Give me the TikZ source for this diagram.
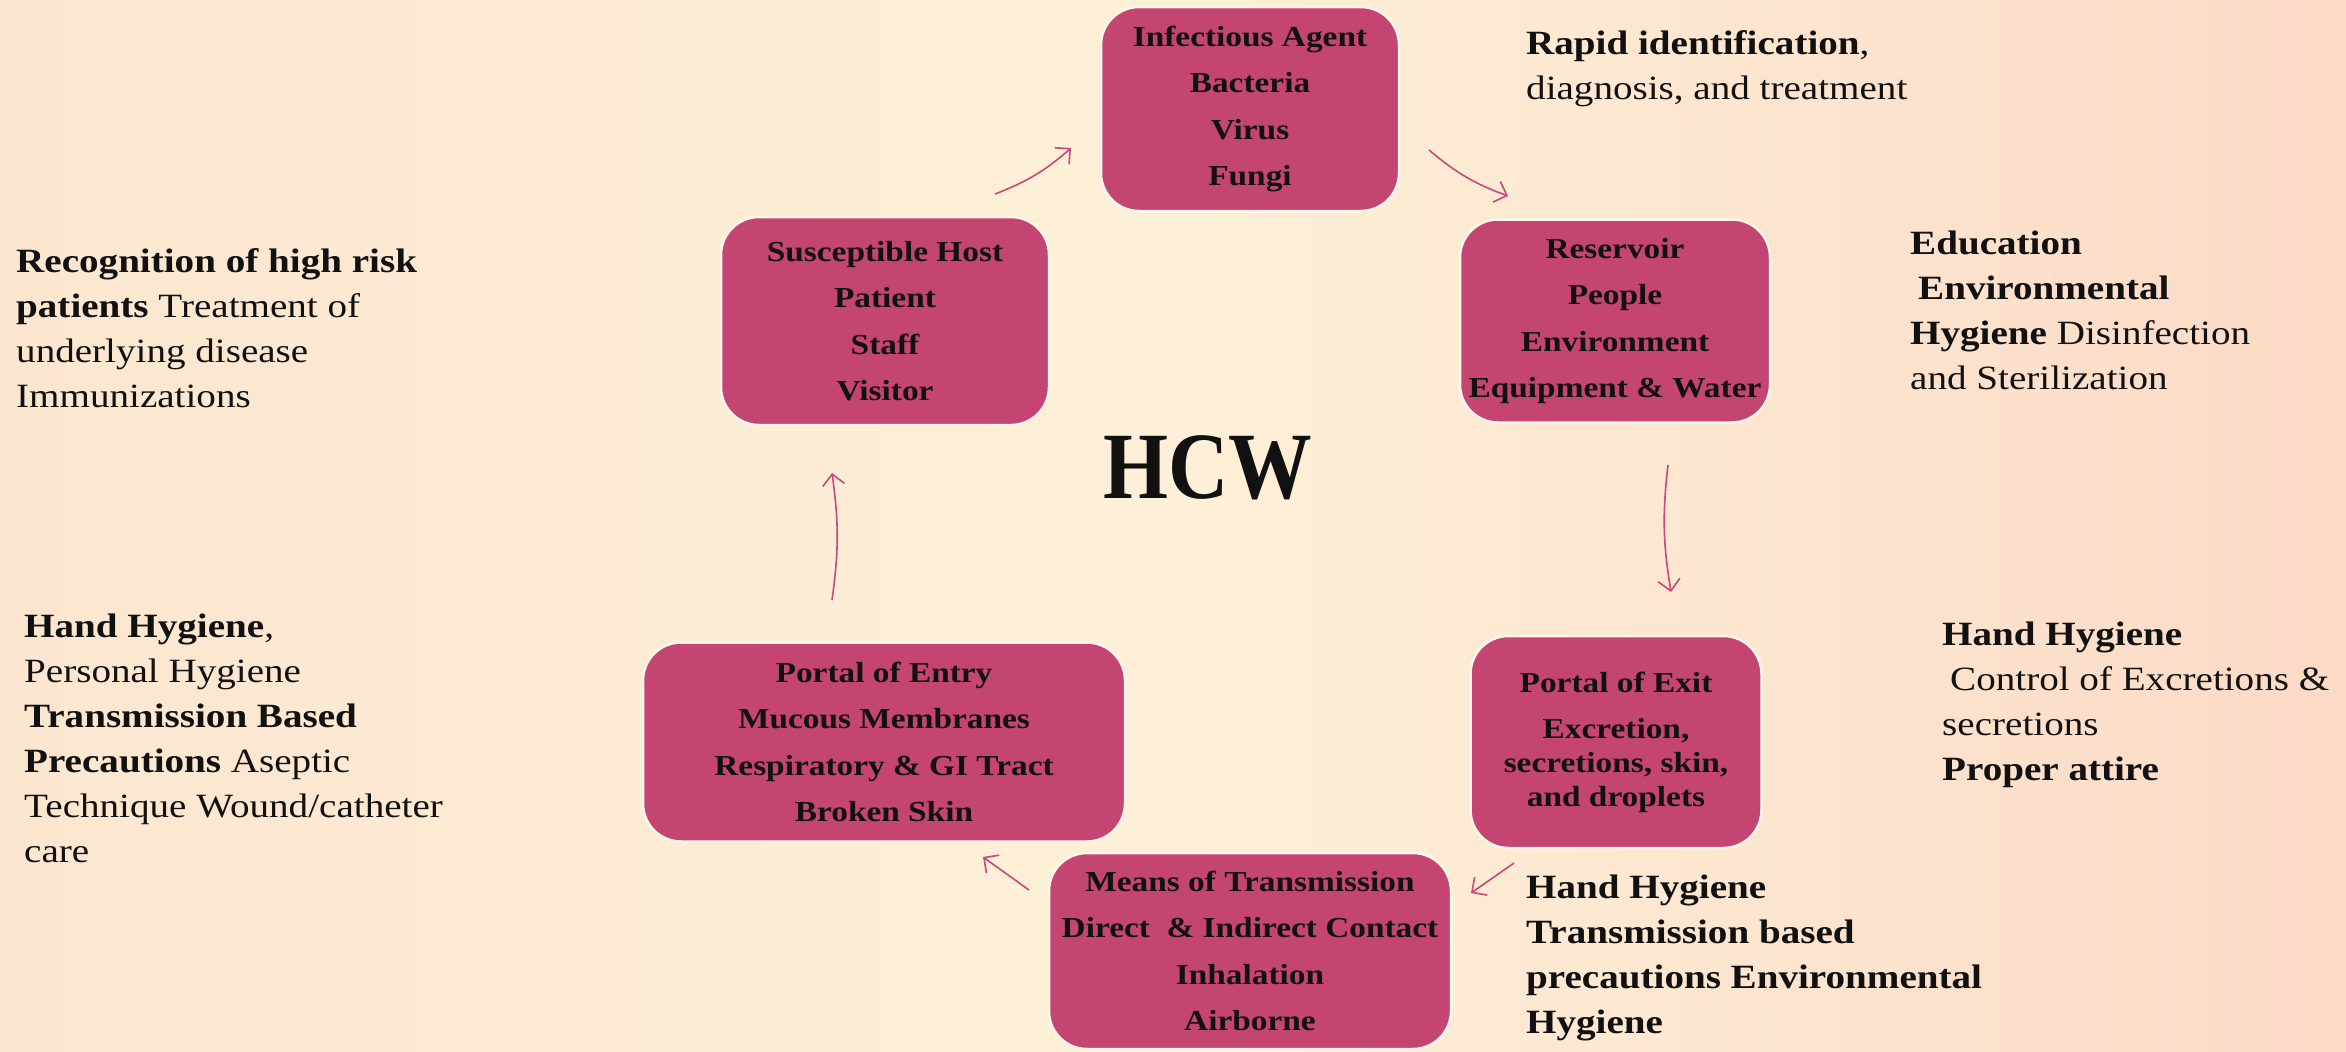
\documentclass[tikz,border=0pt]{standalone}
\usepackage{fontspec}
\setmainfont{Liberation Serif}[FakeStretch=1.15]
\newfontfamily\hcwfont{Liberation Serif}[FakeStretch=0.88]
\usetikzlibrary{arrows.meta}
\definecolor{bgmid}{HTML}{FEF0D8}
\definecolor{bgleft}{HTML}{FCE6D0}
\definecolor{bgright}{HTML}{FBDAC6}
\definecolor{boxfill}{HTML}{C44472}
\definecolor{boxedge}{HTML}{FFF6EA}
\definecolor{arrowcol}{HTML}{C94877}
\definecolor{ink}{HTML}{111111}
\begin{document}
\begin{tikzpicture}[x=1pt,y=-1pt,
  cbox/.style={draw=boxedge, line width=2.5pt, fill=boxfill, rounded corners=38pt,
    align=center, text=ink, font=\fontsize{29}{46.5}\selectfont\bfseries, inner sep=0pt},
  side/.style={anchor=base west, align=left, inner sep=0pt, text=ink,
    font=\fontsize{34}{45}\selectfont},
  cyc/.style={draw=arrowcol, line width=1.6pt, -{Straight Barb[length=11pt,width=22pt]}}]
\useasboundingbox (0,0) rectangle (2346,1052);
\shade[left color=bgleft, right color=bgright, middle color=bgmid] (0,0) rectangle (2346,1052);

% cycle boxes
\node[cbox, minimum width=298pt, minimum height=204pt] (agent) at (1250,109)
  {Infectious Agent\\Bacteria\\Virus\\Fungi};
\node[cbox, minimum width=310pt, minimum height=203pt] (reservoir) at (1615,321)
  {Reservoir\\People\\Environment\\Equipment \& Water};
\node[cbox, minimum width=291pt, minimum height=212pt,
  font=\fontsize{29}{34}\selectfont\bfseries] (exit) at (1616,742)
  {Portal of Exit\\[12pt]Excretion,\\secretions, skin,\\and droplets};
\node[cbox, minimum width=402pt, minimum height=196pt] (means) at (1250,951)
  {Means of Transmission\\Direct \ \& Indirect Contact\\Inhalation\\Airborne};
\node[cbox, minimum width=482pt, minimum height=199pt] (entry) at (884,742)
  {Portal of Entry\\Mucous Membranes\\Respiratory \& GI Tract\\Broken Skin};
\node[cbox, minimum width=328pt, minimum height=208pt] (host) at (885,321)
  {Susceptible Host\\Patient\\Staff\\Visitor};

% centre label
\node[anchor=base, inner sep=0pt, text=ink, font=\fontsize{95}{100}\selectfont\hcwfont\bfseries]
  (hcw) at (1208,498) {HCW};

% side texts (anchored at the baseline of their last line)
\node[side] (rapid) at (1526,99)
  {\textbf{Rapid identification},\\diagnosis, and treatment};
\node[side] (recog) at (16,407)
  {\textbf{Recognition of high risk}\\\textbf{patients} Treatment of\\underlying disease\\Immunizations};
\node[side] (handl) at (24,862)
  {\textbf{Hand Hygiene},\\Personal Hygiene\\\textbf{Transmission Based}\\\textbf{Precautions} Aseptic\\Technique Wound/catheter\\care};
\node[side] (educ) at (1910,389)
  {\textbf{Education}\\\hspace*{8pt}\textbf{Environmental}\\\textbf{Hygiene} Disinfection\\and Sterilization};
\node[side] (handr) at (1942,780)
  {\textbf{Hand Hygiene}\\\hspace*{8pt}Control of Excretions \&\\secretions\\\textbf{Proper attire}};
\node[side, font=\fontsize{34}{45}\selectfont\bfseries] (handb) at (1526,1033)
  {Hand Hygiene\\Transmission based\\precautions Environmental\\Hygiene};

% connector end points
\coordinate (a1s) at (995,194);  \coordinate (a1e) at (1071,148);
\coordinate (a2s) at (1429,150); \coordinate (a2e) at (1508,196);
\coordinate (a3s) at (1668,465); \coordinate (a3e) at (1671,592);
\coordinate (a4s) at (1514,863); \coordinate (a4e) at (1471,893);
\coordinate (a5s) at (1029,890); \coordinate (a5e) at (983,857);
\coordinate (a6s) at (832,600);  \coordinate (a6e) at (832,473);

\draw[cyc] (a1s) to[bend right=10] (a1e);
\draw[cyc] (a2s) to[bend right=10] (a2e);
\draw[cyc] (a3s) to[bend right=8] (a3e);
\draw[cyc] (a4s) to (a4e);
\draw[cyc] (a5s) to (a5e);
\draw[cyc] (a6s) to[bend right=8] (a6e);
\end{tikzpicture}
\end{document}
